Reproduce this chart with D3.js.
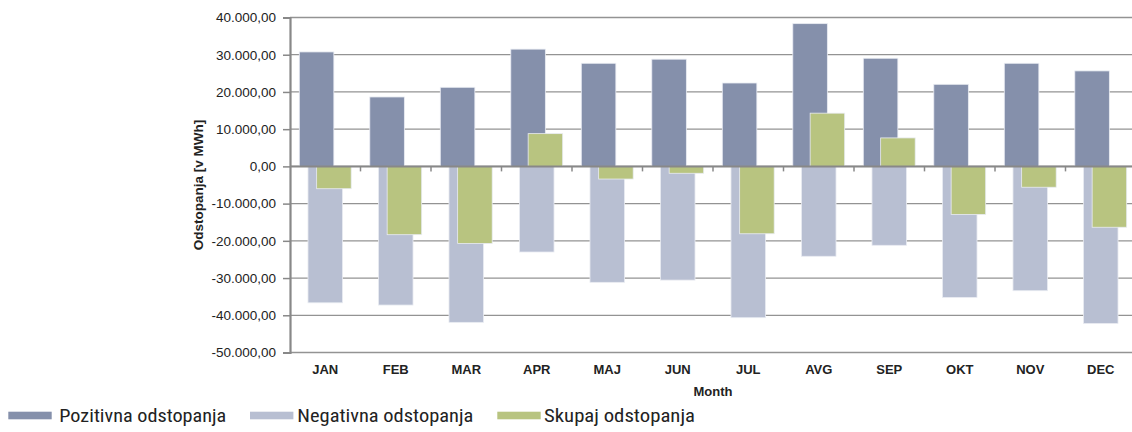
<!DOCTYPE html>
<html>
<head>
<meta charset="utf-8">
<script src="https://cdn.jsdelivr.net/npm/d3@7"></script>
<style>
  html, body { margin: 0; padding: 0; background: #fff; }
  svg { display: block; }
</style>
</head>
<body>
<svg id="chart" width="1132" height="432"></svg>
<script>
const months = ["JAN","FEB","MAR","APR","MAJ","JUN","JUL","AVG","SEP","OKT","NOV","DEC"];
const pozitivna = [30750, 18650, 21250, 31500, 27700, 28800, 22400, 38350, 29050, 22050, 27700, 25650];
const negativna = [-36650, -37250, -41900, -23000, -31150, -30550, -40650, -24150, -21200, -35200, -33400, -42200];
const skupaj = [-6000, -18350, -20700, 8800, -3400, -1850, -18100, 14300, 7650, -12900, -5600, -16350];
const yTicks = [40000, 30000, 20000, 10000, 0, -10000, -20000, -30000, -40000, -50000];
const seriesNames = ["Pozitivna odstopanja", "Negativna odstopanja", "Skupaj odstopanja"];
const seriesColors = ["#8590ab", "#b8bfd2", "#b8c480"];
const yTitle = "Odstopanja [v MWh]";
const xTitle = "Month";

(function () {
const svg = d3.select("#chart");
const pL = 290, pR = 1136, pT = 17.5, pB = 352.5;
const font = "'Liberation Sans', Arial, sans-serif";

const x = d3.scaleBand().domain(months).range([pL, pR]).padding(0);
const y = d3.scaleLinear().domain([-50000, 40000]).range([pB, pT]);

const fmt = v => {
  const s = d3.format(",.2f")(v);
  return s.replace(/,/g, "#").replace(/\./g, ",").replace(/#/g, ".").replace("−", "-");
};

// gridlines
svg.append("g").selectAll("line").data(yTicks).join("line")
  .attr("x1", pL).attr("x2", pR)
  .attr("y1", d => y(d)).attr("y2", d => y(d))
  .attr("stroke", "#939393").attr("stroke-width", 1.3);

// bars
const bw = x.bandwidth();
const barW = bw * 0.49;
const step = bw * 0.123;
const off0 = (bw - (barW + 2 * step)) / 2;
const allSeries = [pozitivna, negativna, skupaj];
allSeries.forEach((vals, si) => {
  svg.append("g").selectAll("rect").data(months).join("rect")
    .attr("x", (m) => x(m) + off0 + si * step)
    .attr("width", barW)
    .attr("y", (m, i) => Math.min(y(vals[i]), y(0)))
    .attr("height", (m, i) => Math.abs(y(vals[i]) - y(0)))
    .attr("fill", seriesColors[si])
    .attr("stroke", "#e9ecf2").attr("stroke-width", 0.8);
});

// y axis
const yAxis = d3.axisLeft(y).tickValues(yTicks).tickFormat(fmt).tickSize(7).tickPadding(7);
const gy = svg.append("g").attr("transform", `translate(${pL},0)`).call(yAxis);
gy.select(".domain").attr("stroke", "#888").attr("stroke-width", 2.2);
gy.selectAll(".tick line").attr("stroke", "#888").attr("stroke-width", 1.5);
gy.selectAll(".tick text").attr("font-family", font)
  .attr("font-size", "13.5px").attr("fill", "#222");

// zero axis line with category boundary ticks
svg.append("line").attr("x1", pL).attr("x2", pR).attr("y1", y(0)).attr("y2", y(0))
  .attr("stroke", "#888").attr("stroke-width", 2);
svg.append("g").selectAll("line").data(months.slice(1)).join("line")
  .attr("x1", d => x(d)).attr("x2", d => x(d))
  .attr("y1", y(0)).attr("y2", y(0) + 5)
  .attr("stroke", "#888").attr("stroke-width", 1.5);

// category labels
svg.append("g").selectAll("text").data(months).join("text")
  .attr("x", d => x(d) + bw / 2).attr("y", 374)
  .attr("text-anchor", "middle")
  .attr("font-family", font)
  .attr("font-size", "13px").attr("font-weight", "bold").attr("fill", "#222")
  .text(d => d);

// axis titles
svg.append("text").attr("x", (pL + pR) / 2).attr("y", 396)
  .attr("text-anchor", "middle")
  .attr("font-family", font)
  .attr("font-size", "13px").attr("font-weight", "bold").attr("fill", "#222")
  .text(xTitle);
svg.append("text")
  .attr("transform", `translate(203,${(pT + pB) / 2}) rotate(-90)`)
  .attr("text-anchor", "middle")
  .attr("font-family", font)
  .attr("font-size", "13.5px").attr("font-weight", "bold").attr("fill", "#222")
  .text(yTitle);

// legend
const legX = [8.3, 250, 497.3];
const legTextX = [59.3, 297.3, 544];
const legTextW = [167, 176, 151];
const lg = svg.append("g");
seriesNames.forEach((name, i) => {
  lg.append("rect").attr("x", legX[i]).attr("y", 411.7).attr("width", 43.4).attr("height", 7.6)
    .attr("fill", seriesColors[i]);
  lg.append("text").attr("x", legTextX[i]).attr("y", 421.5)
    .attr("font-family", "'Roboto Condensed', 'Liberation Sans Narrow', 'DejaVu Sans Condensed', Roboto, sans-serif")
    .attr("font-size", "18px").attr("fill", "#222")
    .attr("textLength", legTextW[i]).attr("lengthAdjust", "spacingAndGlyphs")
    .text(name);
});
})();
</script>
</body>
</html>
